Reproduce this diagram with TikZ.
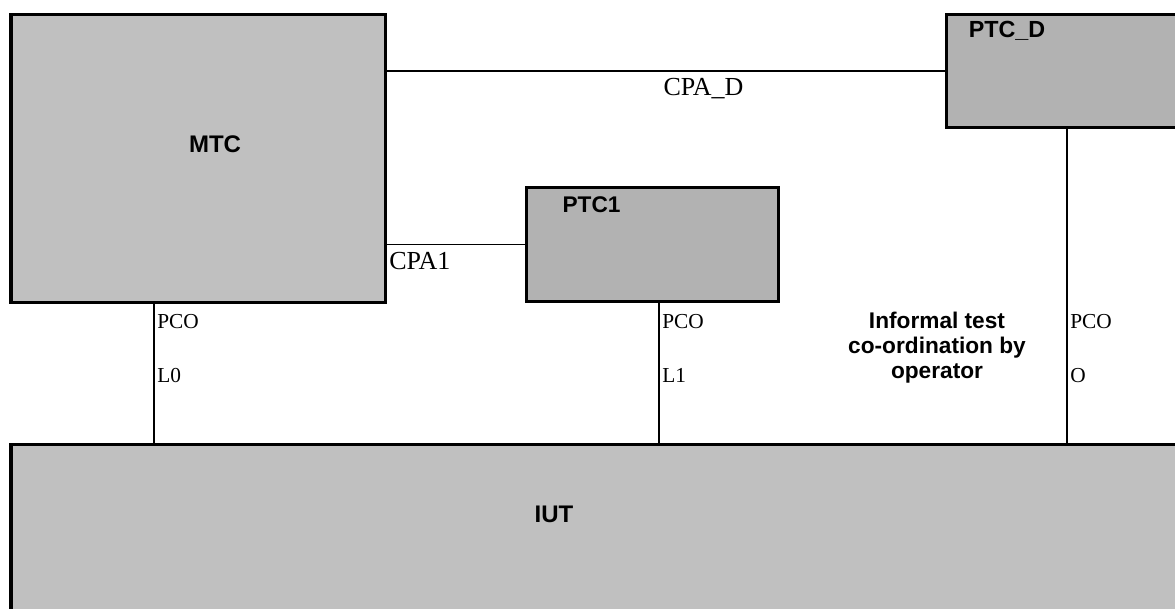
\documentclass[tikz,border=0pt]{standalone}
\usepackage{fontspec}
\setmainfont{Liberation Serif}
\setsansfont{Liberation Sans}
\definecolor{boxlight}{HTML}{C0C0C0}
\definecolor{boxdark}{HTML}{B2B2B2}
\tikzset{
  box/.style={draw=black, line width=2.6pt, inner sep=0pt, outer sep=0pt},
  conn/.style={draw=black, line width=1.1pt},
  title/.style={inner sep=0pt, font=\sffamily\bfseries\fontsize{18}{20}\selectfont},
  lbl/.style={inner sep=0pt, anchor=base west, font=\rmfamily\fontsize{16}{18}\selectfont},
  cpa/.style={inner sep=0pt, font=\rmfamily\fontsize{19.5}{22}\selectfont},
  info/.style={inner sep=0pt, anchor=base, font=\sffamily\bfseries\fontsize{17}{19}\selectfont}
}
\begin{document}
\begin{tikzpicture}[x=0.75pt, y=-0.75pt]
\useasboundingbox (0,0) rectangle (1175,608);
\clip (0,0) rectangle (1175,608);
\fill[white] (0,0) rectangle (1175,608);
% boxes
\node[box, fill=boxlight, minimum width=280.9pt, minimum height=216.2pt] (mtc) at (198.25,158.4) {};
\node[box, fill=boxdark, minimum width=182.6pt, minimum height=85.05pt] (ptcd) at (1068.25,71) {};
\node[box, fill=boxdark, minimum width=188.7pt, minimum height=85.7pt] (ptc1) at (652.5,244.5) {};
\node[box, fill=boxlight, minimum width=884.25pt, minimum height=131.6pt] (iut) at (600.5,532.25) {};
% titles
\node[title, anchor=base] (mtct) at (215,152) {MTC};
\node[title, anchor=base, font=\sffamily\bfseries\fontsize{17}{19}\selectfont] (ptc1t) at (591.5,212) {PTC1};
\node[title, anchor=base, font=\sffamily\bfseries\fontsize{17.5}{19}\selectfont] (ptcdt) at (1007,37) {PTC\_D};
\node[title, anchor=base] (iutt) at (554,522) {IUT};
% connector x positions
\coordinate (xl0) at (154,0);
\coordinate (xl1) at (659,0);
\coordinate (xo) at (1067,0);
% connectors
\draw[conn] (mtc.east |- ptcd.west) -- (ptcd.west);
\draw[conn] (mtc.east |- ptc1.west) -- (ptc1.west);
\draw[conn] (mtc.south -| xl0) -- (iut.north -| xl0);
\draw[conn] (ptc1.south -| xl1) -- (iut.north -| xl1);
\draw[conn] (ptcd.south -| xo) -- (iut.north -| xo);
% redraw box borders over connector ends
% labels
\node[cpa, anchor=base] (cpad) at (703.5,95) {CPA\_D};
\node[cpa, anchor=base west] (cpa1) at (389,269) {CPA1};
\node[lbl] (pco0) at (157,328) {PCO};
\node[lbl] (l0) at (157,382) {L0};
\node[lbl] (pco1) at (662,328) {PCO};
\node[lbl] (l1) at (662,382) {L1};
\node[lbl] (pcoo) at (1070,328) {PCO};
\node[lbl] (lo) at (1070,382) {O};
\node[info] (inf1) at (937,328) {Informal test};
\node[info] (inf2) at (937,353) {co-ordination by};
\node[info] (inf3) at (937,378) {operator};
\end{tikzpicture}
\end{document}
